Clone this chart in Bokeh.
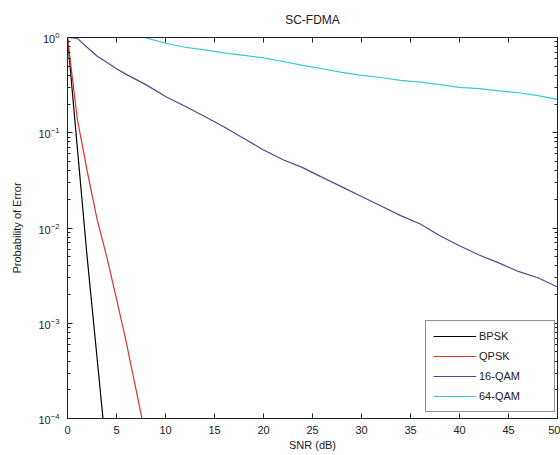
from bokeh.plotting import figure
from bokeh.models import FixedTicker, LinearAxis, LogAxis, Legend, LegendItem, Range1d
from bokeh.embed import file_html
from bokeh.resources import INLINE

# ---- data ----
snr_bpsk = [0, 1, 2, 3, 4]
ber_bpsk = [1.0, 0.07, 0.005, 4.5e-4, 4.0e-5]

snr_qpsk = [0, 1, 2, 3, 4, 5, 6, 7, 8]
ber_qpsk = [1.0, 0.14, 0.04, 0.0126, 0.005, 0.0018, 6.3e-4, 2.0e-4, 6.3e-5]

snr_16qam = [0, 1, 2, 3, 4, 5, 6, 8, 10, 12, 14, 16, 18, 20, 22, 24, 26, 28,
             30, 32, 34, 36, 38, 40, 42, 44, 46, 48, 50]
ber_16qam = [1.0, 0.98, 0.79, 0.64, 0.55, 0.47, 0.41, 0.32, 0.24, 0.19, 0.148,
             0.115, 0.087, 0.066, 0.052, 0.043, 0.034, 0.027, 0.0214, 0.017,
             0.0135, 0.011, 0.0083, 0.0065, 0.0052, 0.0043, 0.0035, 0.0030, 0.0024]

snr_64qam = [8, 10, 12, 14, 16, 18, 20, 22, 24, 26, 28, 30, 32, 34, 36, 38, 40,
             42, 44, 46, 48, 50]
ber_64qam = [0.99, 0.87, 0.79, 0.74, 0.69, 0.65, 0.61, 0.56, 0.51, 0.47, 0.43,
             0.40, 0.38, 0.355, 0.34, 0.32, 0.30, 0.29, 0.275, 0.263, 0.245, 0.224]

series_names = ["BPSK", "QPSK", "16-QAM", "64-QAM"]
series_colors = ["#000000", "#e03030", "#4b4b8f", "#33cccc"]

x_ticks = [0, 5, 10, 15, 20, 25, 30, 35, 40, 45, 50]
y_ticks = [1e-4, 1e-3, 1e-2, 1e-1, 1.0]
y_minor = [m * 10.0 ** e for e in range(-4, 0) for m in range(2, 10)]

FONT = "Liberation Sans"
TXT = "#222222"

p = figure(width=560, height=455,
           x_range=Range1d(0, 50), y_range=Range1d(1e-4, 1),
           y_axis_type="log", title="SC-FDMA",
           output_backend="svg", toolbar_location=None,
           min_border_left=67, min_border_right=3,
           min_border_top=36, min_border_bottom=37)

p.background_fill_color = "white"
p.border_fill_color = "white"
p.outline_line_color = "#222222"
p.outline_line_width = 1
p.grid.visible = False

p.title.align = "center"
p.title.text_font = FONT
p.title.text_font_size = "12px"
p.title.text_font_style = "normal"
p.title.text_color = TXT
p.title.standoff = 21

def style_axis(ax):
    ax.axis_line_color = "#222222"
    ax.major_tick_line_color = "#222222"
    ax.minor_tick_line_color = "#222222"
    ax.major_tick_in = 5
    ax.major_tick_out = 0
    ax.minor_tick_in = 3
    ax.minor_tick_out = 0
    ax.major_label_text_font = FONT
    ax.major_label_text_font_size = "11px"
    ax.major_label_text_color = TXT
    ax.axis_label_text_font = FONT
    ax.axis_label_text_font_size = "11px"
    ax.axis_label_text_font_style = "normal"
    ax.axis_label_text_color = TXT

xa = p.xaxis[0]
xa.ticker = FixedTicker(ticks=x_ticks)
xa.axis_label = "SNR (dB)"
style_axis(xa)
xa.major_label_standoff = 7
xa.axis_label_standoff = 2

ya = p.yaxis[0]
ya.ticker = FixedTicker(ticks=y_ticks, minor_ticks=y_minor)
ya.axis_label = "Probability of Error"
style_axis(ya)
ya.major_label_standoff = 8
ya.axis_label_standoff = 12

top = LinearAxis(ticker=FixedTicker(ticks=x_ticks))
style_axis(top)
top.major_label_text_font_size = "1px"
top.major_label_text_color = None
top.major_label_standoff = 0
p.add_layout(top, "above")

right = LogAxis(ticker=FixedTicker(ticks=y_ticks, minor_ticks=y_minor))
style_axis(right)
right.major_label_text_font_size = "1px"
right.major_label_text_color = None
right.major_label_standoff = 0
p.add_layout(right, "right")

xs = [snr_bpsk, snr_qpsk, snr_16qam, snr_64qam]
ys = [ber_bpsk, ber_qpsk, ber_16qam, ber_64qam]
items = []
for name, color, x, y in zip(series_names, series_colors, xs, ys):
    r = p.line(x, y, line_color=color, line_width=1.2)
    items.append(LegendItem(label=name, renderers=[r]))

legend = Legend(items=items, location=(358, 6))
legend.label_text_font = FONT
legend.label_text_font_size = "11px"
legend.label_text_color = TXT
legend.glyph_width = 43
legend.glyph_height = 16
legend.label_height = 16
legend.label_width = 68
legend.label_standoff = 3
legend.spacing = 4
legend.padding = 7
legend.margin = 0
legend.border_line_color = "#222222"
legend.border_line_width = 1
legend.background_fill_color = "white"
legend.background_fill_alpha = 1.0
p.add_layout(legend, "center")

open("out.html", "w").write(file_html(p, INLINE))
